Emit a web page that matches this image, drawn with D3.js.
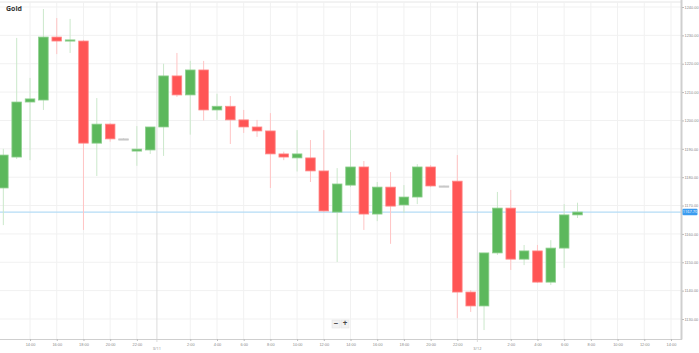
<!DOCTYPE html>
<html>
<head>
<meta charset="utf-8">
<script src="https://cdn.jsdelivr.net/npm/d3@7"></script>
<style>
  body { margin: 0; background: #fff; font-family: "Open Sans", "DejaVu Sans", sans-serif; }
  svg { display: block; }
</style>
</head>
<body>
<div id="chart"></div>
<script>
// hourly candles, gold price
const times = [
  "2015-03-10 12:00","2015-03-10 13:00","2015-03-10 14:00","2015-03-10 15:00","2015-03-10 16:00",
  "2015-03-10 17:00","2015-03-10 18:00","2015-03-10 19:00","2015-03-10 20:00","2015-03-10 21:00",
  "2015-03-10 22:00","2015-03-10 23:00","2015-03-11 00:00","2015-03-11 01:00","2015-03-11 02:00",
  "2015-03-11 03:00","2015-03-11 04:00","2015-03-11 05:00","2015-03-11 06:00","2015-03-11 07:00",
  "2015-03-11 08:00","2015-03-11 09:00","2015-03-11 10:00","2015-03-11 11:00","2015-03-11 12:00",
  "2015-03-11 13:00","2015-03-11 14:00","2015-03-11 15:00","2015-03-11 16:00","2015-03-11 17:00",
  "2015-03-11 18:00","2015-03-11 19:00","2015-03-11 20:00","2015-03-11 21:00","2015-03-11 22:00",
  "2015-03-11 23:00","2015-03-12 00:00","2015-03-12 01:00","2015-03-12 02:00","2015-03-12 03:00",
  "2015-03-12 04:00","2015-03-12 05:00","2015-03-12 06:00","2015-03-12 07:00"
];
const opens  = [1176.2,1187.1,1206.5,1207.2,1229.4,1228.0,1228.0,1192.0,1198.7,1193.5,1189.2,1189.6,1197.7,1215.7,1209.0,1217.8,1203.7,1205.0,1200.2,1197.7,1196.3,1188.2,1186.8,1186.8,1182.2,1167.7,1177.2,1183.6,1167.0,1176.5,1170.2,1173.0,1183.6,1176.9,1178.6,1139.5,1134.6,1153.3,1169.1,1151.1,1154.0,1143.0,1155.0,1166.7];
const highs  = [1190.0,1229.1,1215.0,1239.3,1236.1,1235.8,1228.4,1207.9,1199.0,1193.8,1198.0,1197.7,1220.0,1223.8,1221.0,1221.0,1209.4,1208.6,1203.7,1200.2,1202.6,1189.0,1196.6,1193.1,1196.6,1183.2,1196.6,1185.7,1178.3,1181.8,1177.2,1184.6,1184.3,1177.1,1187.8,1140.2,1153.3,1174.8,1175.5,1156.1,1156.1,1157.8,1170.5,1171.0];
const lows   = [1163.1,1186.4,1186.0,1203.7,1223.4,1223.8,1161.4,1180.4,1192.5,1193.3,1184.0,1188.2,1187.5,1208.3,1195.0,1200.0,1200.2,1191.7,1195.6,1194.2,1176.2,1186.0,1182.0,1178.3,1167.7,1150.1,1176.5,1161.4,1164.5,1156.5,1167.4,1170.5,1176.5,1176.7,1130.3,1132.5,1126.1,1152.6,1147.3,1149.0,1142.7,1142.0,1148.0,1165.6];
const closes = [1187.8,1206.5,1207.6,1229.4,1228.0,1228.4,1192.0,1198.7,1193.5,1193.5,1189.9,1197.7,1215.7,1209.0,1217.8,1203.7,1205.0,1200.2,1197.7,1196.3,1188.2,1187.1,1188.2,1182.2,1168.1,1177.6,1183.6,1167.0,1176.5,1169.8,1173.0,1183.6,1176.9,1176.9,1139.5,1134.6,1153.3,1169.1,1151.1,1154.0,1143.0,1155.0,1166.7,1167.7];

const priceTicks = [1130,1140,1150,1160,1170,1180,1190,1200,1210,1220,1230,1240];
const dayMarks = ["2015-03-10 23:30","2015-03-11 23:30"];
const dayLabels = ["3/11","3/12"];
const currentPrice = 1167.7;
const title = "Gold";

const parse = d3.timeParse("%Y-%m-%d %H:%M");
const candles = times.map((t,i) => ({
  t: parse(t), o: opens[i], h: highs[i], l: lows[i], c: closes[i]
}));

const width = 699, height = 353;
const plotRight = 681, plotBottom = 339;
const tickFont = "3.9px";

const svg = d3.select("#chart").append("svg")
  .attr("width", width).attr("height", height);

const x = d3.scaleTime()
  .domain([parse("2015-03-10 11:45"), parse("2015-03-12 14:45")])
  .range([0, plotRight]);

const y = d3.scaleLinear()
  .domain([1130, 1240])
  .range([319, 7]);

// top border
svg.append("line")
  .attr("x1", 0).attr("x2", plotRight).attr("y1", 2).attr("y2", 2)
  .attr("stroke", "#e6e6e6");

// time ticks every 2 hours, skipping midnight
const hourTicks = d3.timeHour.every(2)
  .range(parse("2015-03-10 14:00"), parse("2015-03-12 15:00"))
  .filter(d => d.getHours() !== 0);

svg.append("g").selectAll("line")
  .data(hourTicks).enter().append("line")
  .attr("x1", d => x(d)).attr("x2", d => x(d))
  .attr("y1", 2).attr("y2", plotBottom)
  .attr("stroke", "#f1f1f1");

svg.append("g").selectAll("line")
  .data(priceTicks).enter().append("line")
  .attr("x1", 0).attr("x2", plotRight)
  .attr("y1", d => y(d)).attr("y2", d => y(d))
  .attr("stroke", "#f1f1f1");

svg.append("g").selectAll("line")
  .data(dayMarks).enter().append("line")
  .attr("x1", d => x(parse(d))).attr("x2", d => x(parse(d)))
  .attr("y1", 2).attr("y2", plotBottom + 3)
  .attr("stroke", "#dcdcdc");

// current price line
svg.append("line")
  .attr("x1", 0).attr("x2", plotRight)
  .attr("y1", y(currentPrice)).attr("y2", y(currentPrice))
  .attr("stroke", "#b5dcf6").attr("stroke-width", 1.2);

// candles
const bw = 9.6;
const up = "#5cb85c", down = "#ff5555";
const g = svg.append("g");

g.selectAll(".wick")
  .data(candles).enter().append("line")
  .attr("class", "wick")
  .attr("x1", d => x(d.t)).attr("x2", d => x(d.t))
  .attr("y1", d => y(d.h)).attr("y2", d => y(d.l))
  .attr("stroke", d => d.c > d.o ? "#cbe8cb" : d.c < d.o ? "#ffc4c4" : "#ddd")
  .attr("stroke-width", 1);

g.selectAll(".body")
  .data(candles).enter().append("rect")
  .attr("class", "body")
  .attr("x", d => x(d.t) - bw / 2)
  .attr("width", bw)
  .attr("y", d => y(Math.max(d.o, d.c)))
  .attr("height", d => Math.max(1.2, Math.abs(y(d.o) - y(d.c))))
  .attr("fill", d => d.c > d.o ? up : d.c < d.o ? down : "#c8c8c8")
  .attr("stroke", d => d.c > d.o ? "#8fd08f" : d.c < d.o ? "#ff8c8c" : "#c8c8c8")
  .attr("stroke-width", 0.8);

// right axis
svg.append("line")
  .attr("x1", plotRight + 0.5).attr("x2", plotRight + 0.5)
  .attr("y1", 0).attr("y2", plotBottom + 0.5)
  .attr("stroke", "#cfcfcf").attr("stroke-width", 2);

const yAxis = svg.append("g")
  .attr("transform", `translate(${plotRight + 1},0)`)
  .call(d3.axisRight(y).tickValues(priceTicks).tickSize(2).tickPadding(0.5)
    .tickFormat(d3.format(".2f")));
yAxis.select(".domain").remove();
yAxis.selectAll("line").attr("stroke", "#bbb");
yAxis.selectAll("text").attr("fill", "#888").style("font-size", tickFont);

// bottom axis
svg.append("line")
  .attr("x1", 0).attr("x2", plotRight + 1)
  .attr("y1", plotBottom + 0.5).attr("y2", plotBottom + 0.5)
  .attr("stroke", "#cfcfcf").attr("stroke-width", 1.2);

const xAxis = svg.append("g")
  .attr("transform", `translate(0,${plotBottom})`)
  .call(d3.axisBottom(x).tickValues(hourTicks).tickSize(2).tickPadding(2)
    .tickFormat(d3.timeFormat("%-H:%M")));
xAxis.select(".domain").remove();
xAxis.selectAll("line").attr("stroke", "#bbb");
xAxis.selectAll("text").attr("fill", "#888").style("font-size", tickFont);

svg.append("g").selectAll("text")
  .data(dayMarks).enter().append("text")
  .attr("x", d => x(parse(d)))
  .attr("y", plotBottom + 11)
  .attr("text-anchor", "middle")
  .attr("fill", "#888")
  .style("font-size", tickFont)
  .text((d, i) => dayLabels[i]);

// price label
const lab = svg.append("g")
  .attr("transform", `translate(${plotRight + 1.5},${y(currentPrice)})`);
lab.append("rect")
  .attr("x", 0).attr("y", -3.2).attr("width", 15).attr("height", 6.4).attr("rx", 1)
  .attr("fill", "#3b9cf0");
lab.append("text")
  .attr("x", 7.5).attr("y", 1.4).attr("text-anchor", "middle")
  .attr("fill", "#fff").style("font-size", tickFont)
  .text(d3.format(".2f")(currentPrice));

// title
svg.append("text")
  .attr("x", 6).attr("y", 11)
  .attr("fill", "#333").style("font-size", "7px").style("font-weight", "bold")
  .text(title);

// zoom buttons
const zb = svg.append("g").attr("transform", "translate(332,320)");
[["−", 0], ["+", 9]].forEach(([s, dx]) => {
  zb.append("rect").attr("x", dx).attr("y", 0).attr("width", 8).attr("height", 8)
    .attr("fill", "#f2f2f2").attr("stroke", "#e0e0e0").attr("stroke-width", 0.5);
  zb.append("text").attr("x", dx + 4).attr("y", 6.3).attr("text-anchor", "middle")
    .attr("fill", "#444").style("font-size", "8px").style("font-weight", "bold").text(s);
});
</script>
</body>
</html>
